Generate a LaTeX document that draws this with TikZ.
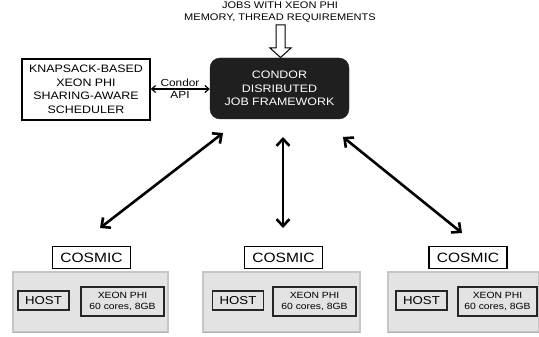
\documentclass[tikz,border=0pt]{standalone}
\usepackage{fontspec}
\setmainfont{Liberation Sans}[FakeStretch=1.15]
\usetikzlibrary{arrows.meta}
\begin{document}
\begin{tikzpicture}[x=1pt,y=-1pt,
  whitebox/.style={draw=black,line width=1.5pt,fill=white,inner sep=0pt,align=center},
  darkbox/.style={draw=black!88,fill=black!88,rounded corners=10pt,inner sep=0pt,align=center,text=white},
  graybox/.style={draw=gray!45,line width=1.2pt,fill=gray!22,inner sep=0pt},
  innerbox/.style={draw=black!85,line width=1.4pt,fill=gray!22,inner sep=0pt,align=center},
  bigarrow/.style={line width=2.6pt,{Straight Barb[length=7pt,width=13pt]}-{Straight Barb[length=7pt,width=13pt]}},
  thinarrow/.style={line width=1.2pt,{Straight Barb[length=4pt,width=7pt]}-{Straight Barb[length=4pt,width=7pt]}},
  lbl/.style={inner sep=0pt,align=center}]
\useasboundingbox (0,0) rectangle (539,337);

% top text
\node[lbl,font=\fontsize{9.6}{11.5}\selectfont] (jobs) at (280,12) {JOBS WITH XEON PHI\\MEMORY, THREAD REQUIREMENTS};

% condor framework
\node[darkbox,minimum width=139pt,minimum height=61pt,font=\fontsize{10.8}{13.5}\selectfont] (condor) at (279.5,88.5) {CONDOR\\DISRIBUTED\\JOB FRAMEWORK};

% hollow input arrow
\draw[line width=1pt,fill=white] (276,25) -- (285,25) -- (285,48) -- (291,48) -- (280.5,57.5) -- (270,48) -- (276,48) -- cycle;

% scheduler
\node[whitebox,minimum width=128pt,minimum height=61pt,font=\fontsize{10.8}{13.5}\selectfont] (sched) at (86,89.5) {KNAPSACK-BASED\\XEON PHI\\SHARING-AWARE\\SCHEDULER};

\draw[thinarrow] (sched.east |- 0,89) -- (condor.west |- 0,89);
\node[lbl,font=\fontsize{10.3}{12.5}\selectfont] (api) at (180,89) {Condor\\API};

% machines
\foreach \n/\cx/\gx/\gw/\hx/\xx/\xw in {a/91.5/90.5/155/43.5/122.5/83, b/283.5/281.5/157/238/314.5/83, c/468/463.5/151/421.5/497.5/79}{
  \node[whitebox,minimum width=78pt,minimum height=22pt,font=\fontsize{13.5}{15}\selectfont] (cosmic\n) at (\cx,257.5) {COSMIC};
  \node[graybox,minimum width=\gw pt,minimum height=60pt] (mach\n) at (\gx,302) {};
  \draw[gray!60,line width=1.2pt] ([xshift=1pt]mach\n.south west) -- ([xshift=-1pt]mach\n.south east);
  \node[innerbox,minimum width=51pt,minimum height=19pt,font=\fontsize{11.5}{13}\selectfont] (host\n) at (\hx,300.5) {HOST};
  \node[innerbox,minimum width=\xw pt,minimum height=29pt,font=\fontsize{9}{11}\selectfont] (phi\n) at (\xx,301.5) {XEON PHI\\60 cores, 8GB};
}

% connectors
\coordinate (la) at (223,133); \coordinate (lb) at (100,228);
\coordinate (ma) at (283,137); \coordinate (mb) at (283,228);
\coordinate (ra) at (343,137); \coordinate (rb) at (462,233);
\draw[bigarrow] (la) -- (lb);
\draw[bigarrow] (ma) -- (mb);
\draw[bigarrow] (ra) -- (rb);
\end{tikzpicture}
\end{document}
